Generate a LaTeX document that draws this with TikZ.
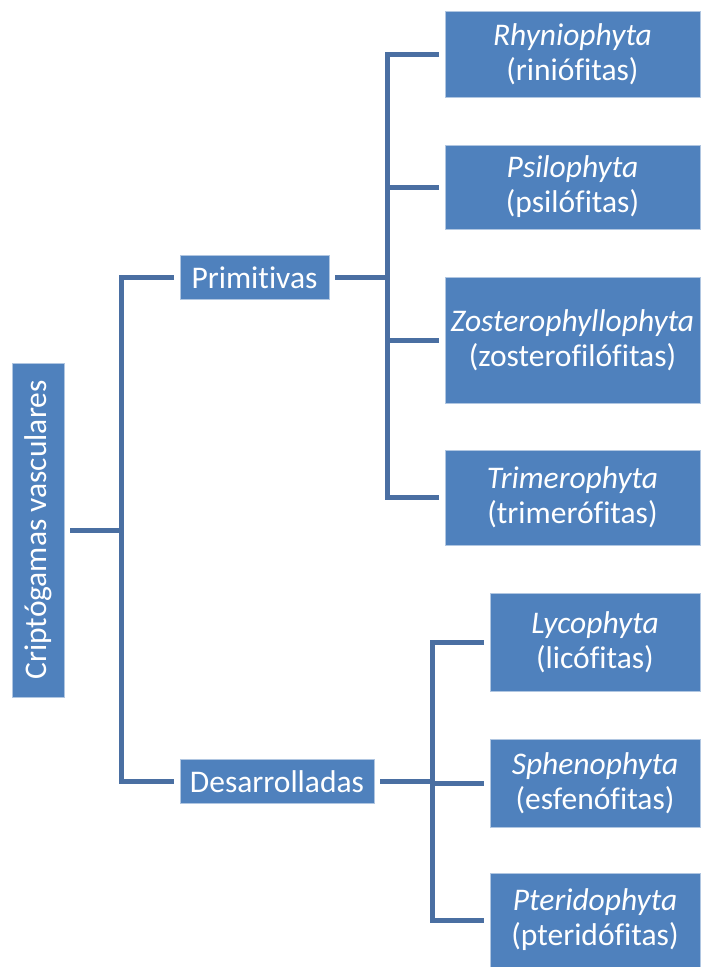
\documentclass[tikz,border=0pt]{standalone}
\usepackage{fontspec}
\setmainfont{Carlito}[Ligatures=NoCommon]
\usepackage{tikz}
\usetikzlibrary{positioning,calc}
\definecolor{boxblue}{RGB}{79,129,189}
\definecolor{linkblue}{RGB}{74,111,162}
\tikzset{
  taxon/.style={rectangle, draw=boxblue!45!white, line width=0.8pt, fill=boxblue,
    text=white, align=center, inner sep=2pt, outer sep=6pt,
    font=\fontsize{31.5}{35}\selectfont},
  link/.style={draw=linkblue, line width=5pt, line join=miter}
}
\begin{document}
\begin{tikzpicture}[x=1pt, y=-1pt]

    \useasboundingbox (0,0) rectangle (702,967);

    % Nodes
    \node[taxon, minimum width=52, minimum height=334] (root) at (38,530) {\rotatebox{90}{Criptógamas vasculares}};
    \node[taxon, minimum width=149, minimum height=44] (prim) at (254.5,277.5) {Primitivas};
    \node[taxon, minimum width=194, minimum height=44] (desa) at (277,781.5) {Desarrolladas};

    \node[taxon, minimum width=255, minimum height=86] (rhy) at (572.5,54) {\textit{Rhyniophyta}\\(riniófitas)};
    \node[taxon, minimum width=255, minimum height=84] (psi) at (572.5,187) {\textit{Psilophyta}\\(psilófitas)};
    \node[taxon, minimum width=255, minimum height=126] (zos) at (572.5,340) {\textit{Zosterophyllophyta}\\(zosterofilófitas)};
    \node[taxon, minimum width=255, minimum height=95] (tri) at (572.5,497.5) {\textit{Trimerophyta}\\(trimerófitas)};

    \node[taxon, minimum width=210, minimum height=98] (lyc) at (595,642) {\textit{Lycophyta}\\(licófitas)};
    \node[taxon, minimum width=210, minimum height=88] (sph) at (595,783) {\textit{Sphenophyta}\\(esfenófitas)};
    \node[taxon, minimum width=210, minimum height=94] (pte) at (595,920) {\textit{Pteridophyta}\\(pteridófitas)};

    % Forks
    \coordinate (fork0) at (121,530);
    \coordinate (fork1) at (387,277.5);
    \coordinate (fork2) at (432,781.5);

    % Lines
    \draw[link] (root.east) -- (fork0);
    \draw[link] (prim.west) -| (fork0) |- (desa.west);

    \draw[link] (prim.east) -- (fork1);
    \draw[link] (rhy.west) -| (fork1) |- (tri.west);
    \draw[link] (fork1 |- psi.west) -- (psi.west);
    \draw[link] (fork1 |- zos.west) -- (zos.west);

    \draw[link] (desa.east) -- (fork2);
    \draw[link] (lyc.west) -| (fork2) |- (pte.west);
    \draw[link] (fork2 |- sph.west) -- (sph.west);

\end{tikzpicture}
\end{document}
